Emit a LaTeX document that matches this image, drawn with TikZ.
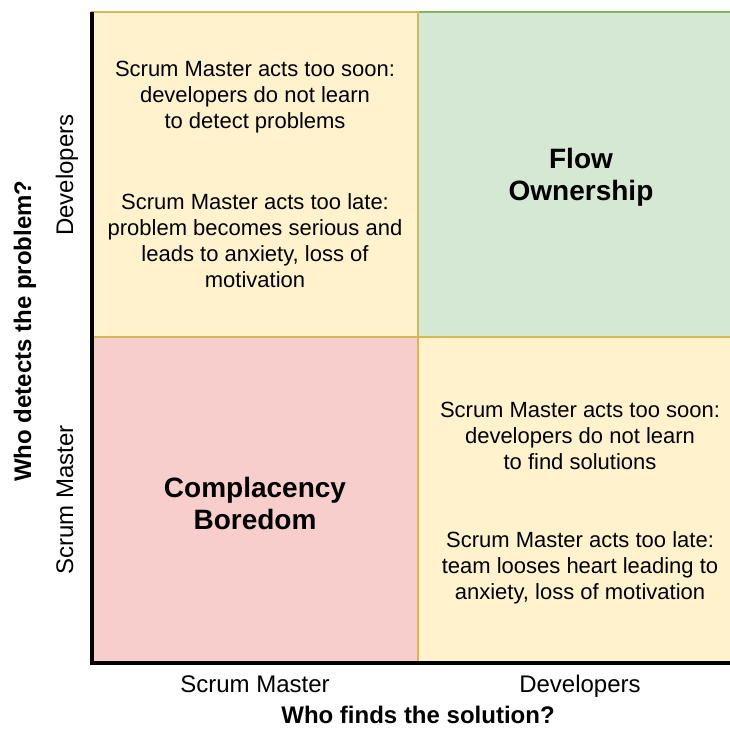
\documentclass[tikz,border=0pt]{standalone}
\usepackage{fontspec}
\setmainfont{Liberation Sans}
\definecolor{mildfill}{HTML}{FFF2CC}
\definecolor{mildline}{HTML}{D6B656}
\definecolor{flowfill}{HTML}{D5E8D4}
\definecolor{flowline}{HTML}{82B366}
\definecolor{boredfill}{HTML}{F8CECC}
\definecolor{boredline}{HTML}{B85450}
% one square of the grid: fill, border, corner, corner
\newcommand{\quadrant}[4]
{   \filldraw[fill=#1, draw=#2, line width=2] #3 rectangle #4;
}
\tikzset{
  note/.style={align=center, inner sep=0, font=\fontsize{22}{26}\selectfont},
  headline/.style={align=center, inner sep=0, font=\fontsize{28}{32}\selectfont\bfseries},
  axislabel/.style={inner sep=0, anchor=base, font=\fontsize{24}{28}\selectfont},
  axistitle/.style={inner sep=0, font=\fontsize{24}{28}\selectfont\bfseries},
  axisline/.style={line width=4, line join=miter}
}

\begin{document}
\begin{tikzpicture}[x=1pt,y=-1pt]
 \useasboundingbox (0,0) rectangle (730,728);
 \clip (0,0) rectangle (730,728);

 \quadrant{flowfill}{flowline}{(418,12)}{(744,337)}
 \quadrant{boredfill}{boredline}{(92,337)}{(418,662)}
 \quadrant{mildfill}{mildline}{(92,12)}{(418,337)}
 \quadrant{mildfill}{mildline}{(418,337)}{(744,662)}

   \node[note] (soonDetect) at (255,97) {Scrum Master acts too soon:\\developers do not learn\\to detect problems};
   \node[note] (lateDetect) at (255,241) {Scrum Master acts too late:\\problem becomes serious and\\leads to anxiety, loss of\\motivation};
   \node[headline] (flow) at (581,177) {Flow\\Ownership};
   \node[headline] (bored) at (255,503) {Complacency\\Boredom};
   \node[note] (soonSolve) at (580,436) {Scrum Master acts too soon:\\developers do not learn\\to find solutions};
   \node[note] (lateSolve) at (580,568) {Scrum Master acts too late:\\team looses heart leading to\\anxiety, loss of motivation};

   \coordinate (top) at (92,12);
   \coordinate (origin) at (92,663);
   \coordinate (right) at (744,663);
   \draw[axisline] (top) -- (origin) -- (right);

   \node[axislabel] (solveSM) at (255,692) {Scrum Master};
   \node[axislabel] (solveDev) at (580,692) {Developers};
   \node[axistitle] (solveTitle) at (418,715) {Who finds the solution?};
   \node[axislabel, rotate=90] (detectDev) at (73,175) {Developers};
   \node[axislabel, rotate=90] (detectSM) at (73,500) {Scrum Master};
   \node[axistitle, rotate=90] (detectTitle) at (25,331) {Who detects the problem?};

 \end{tikzpicture}
\end{document}
